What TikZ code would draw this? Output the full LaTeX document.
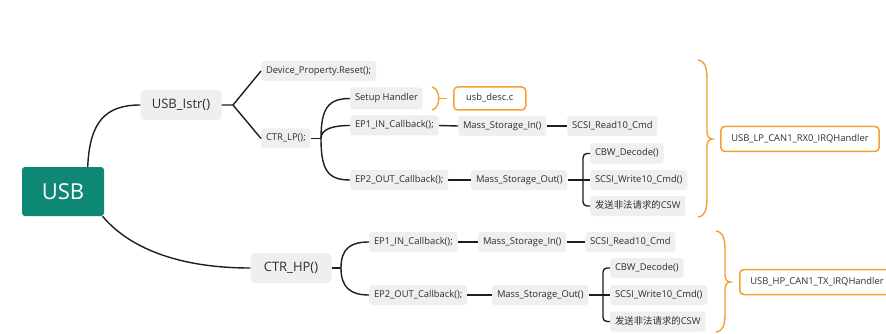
\documentclass[tikz,border=0pt]{standalone}
\usepackage{fontspec}
\setmainfont{Open Sans}
\newfontfamily\cjk{Noto Sans CJK SC}
\definecolor{tealbox}{RGB}{15,135,117}
\definecolor{orng}{RGB}{243,160,52}
\definecolor{boxg}{RGB}{239,239,239}
\definecolor{txt}{RGB}{45,45,45}
\definecolor{lnc}{RGB}{30,30,30}
\begin{document}
\begin{tikzpicture}[x=1pt,y=-1pt,
  leaf/.style={fill=boxg, rounded corners=3pt, anchor=west, minimum height=20pt,
    inner xsep=4.8pt, inner ysep=0pt, text height=7pt, text depth=2pt, text=txt,
    font=\fontsize{9.4}{11}\selectfont},
  midbox/.style={fill=boxg, rounded corners=4pt, minimum width=81pt, minimum height=30pt,
    text height=9.5pt, text depth=3pt, text=txt, font=\fontsize{13}{15}\selectfont},
  summ/.style={draw=orng, line width=1.5pt, rounded corners=4pt, anchor=west,
    inner xsep=10.5pt, inner ysep=0pt, text height=7pt, text depth=2pt, text=txt,
    font=\fontsize{9.4}{11}\selectfont},
  conn/.style={draw=lnc, line width=1.4pt},
  bracestroke/.style={draw=orng, line width=1.4pt},
]
\useasboundingbox (0,0) rectangle (886,334);
\fill[white] (0,0) rectangle (886,334);

% root
\node[fill=tealbox, rounded corners=3pt, minimum width=82pt, minimum height=49pt,
  text=white, font=\fontsize{22}{24}\selectfont] (usb) at (63,191.5) {USB};

% upper branch
\node[midbox] (istr) at (181,105) {USB\_Istr()};
\node[leaf] (dev) at (261,71) {Device\_Property.Reset();};
\node[leaf] (ctrlp) at (261,138.5) {CTR\_LP();};
\node[leaf, minimum height=22pt] (setup) at (350,98.5) {Setup Handler};
\node[summ, minimum width=72pt, minimum height=23pt, inner xsep=4pt] (desc) at (453,98.5) {usb\_desc.c};
\node[leaf] (ep1) at (350,125.5) {EP1\_IN\_Callback();};
\node[leaf] (msin) at (458,126) {Mass\_Storage\_In()};
\node[leaf] (read) at (567,126) {SCSI\_Read10\_Cmd};
\node[leaf] (ep2) at (350,180) {EP2\_OUT\_Callback();};
\node[leaf] (msout) at (471,180) {Mass\_Storage\_Out()};
\node[leaf] (cbw) at (590,153.5) {CBW\_Decode()};
\node[leaf] (write) at (590,180) {SCSI\_Write10\_Cmd()};
\node[leaf] (csw) at (590,206) {{\cjk 发送非法请求的}CSW};
\node[summ, minimum height=25pt] (lpirq) at (720,139) {USB\_LP\_CAN1\_RX0\_IRQHandler};

% lower branch
\node[midbox] (hp) at (291,268) {CTR\_HP()};
\node[leaf] (ep1b) at (369,242) {EP1\_IN\_Callback();};
\node[leaf] (msinb) at (478,242) {Mass\_Storage\_In()};
\node[leaf] (readb) at (585,242) {SCSI\_Read10\_Cmd};
\node[leaf] (ep2b) at (369,295) {EP2\_OUT\_Callback();};
\node[leaf] (msoutb) at (492,295) {Mass\_Storage\_Out()};
\node[leaf] (cbwb) at (610,268) {CBW\_Decode()};
\node[leaf] (writeb) at (610,295) {SCSI\_Write10\_Cmd()};
\node[leaf] (cswb) at (610,321.5) {{\cjk 发送非法请求的}CSW};
\node[summ, minimum height=25pt] (hpirq) at (739,282) {USB\_HP\_CAN1\_TX\_IRQHandler};

% junctions
\coordinate (j1) at (233,105);
\coordinate (j2) at (321,138.5);
\coordinate (j3) at (583,180);
\coordinate (j4) at (341,268);
\coordinate (j5) at (603,295);

% connectors
\draw[conn] (usb.45) .. controls +(2,-45) and +(-35,0) .. (istr.west);
\draw[conn] (usb.-32) .. controls +(25,30) and +(-75,0) .. (hp.west);

\draw[conn] (istr.east) -- (j1) -- (dev.west);
\draw[conn] (j1) -- (ctrlp.west);

\draw[conn] (ctrlp.east) -- (j2);
\draw[conn] (j2) .. controls +(0,-30) and +(-22,0) .. (setup.west);
\draw[conn] (j2) .. controls +(0,-10) and +(-16,0) .. (ep1.west);
\draw[conn] (j2) .. controls +(0,32) and +(-22,0) .. (ep2.west);
\draw[conn] (ep1.east) -- (msin.west);
\draw[conn] (msin.east) -- (read.west);
\draw[conn] (ep2.east) -- (msout.west);
\draw[conn] (msout.east) -- (write.west);
\draw[conn, rounded corners=4pt] (cbw.west) -| (j3) |- (csw.west);

\draw[conn] (hp.east) -- (j4);
\draw[conn] (j4) .. controls +(0,-20) and +(-18,0) .. (ep1b.west);
\draw[conn] (j4) .. controls +(0,20) and +(-18,0) .. (ep2b.west);
\draw[conn] (ep1b.east) -- (msinb.west);
\draw[conn] (msinb.east) -- (readb.west);
\draw[conn] (ep2b.east) -- (msoutb.west);
\draw[conn] (msoutb.east) -- (writeb.west);
\draw[conn, rounded corners=4pt] (cbwb.west) -| (j5) |- (cswb.west);

% summary braces
\draw[bracestroke] (432,87) .. controls (441,89) and (441,108) .. (432,110);
\draw[bracestroke] (438.7,98.5) -- (447,98.5);

\draw[bracestroke] (698,60) .. controls (705,61) and (707,68) .. (707,80) -- (707,132)
  .. controls (707,136) and (709,139) .. (712.5,139)
  .. controls (709,139) and (707,142) .. (707,146) -- (707,198)
  .. controls (707,210) and (705,216) .. (698,217);

\draw[bracestroke] (716,231) .. controls (723,232) and (725,239) .. (725,250) -- (725,276)
  .. controls (725,279) and (727,282) .. (730.5,282)
  .. controls (727,282) and (725,285) .. (725,288) -- (725,314)
  .. controls (725,325) and (723,331) .. (716,332);
\end{tikzpicture}
\end{document}
